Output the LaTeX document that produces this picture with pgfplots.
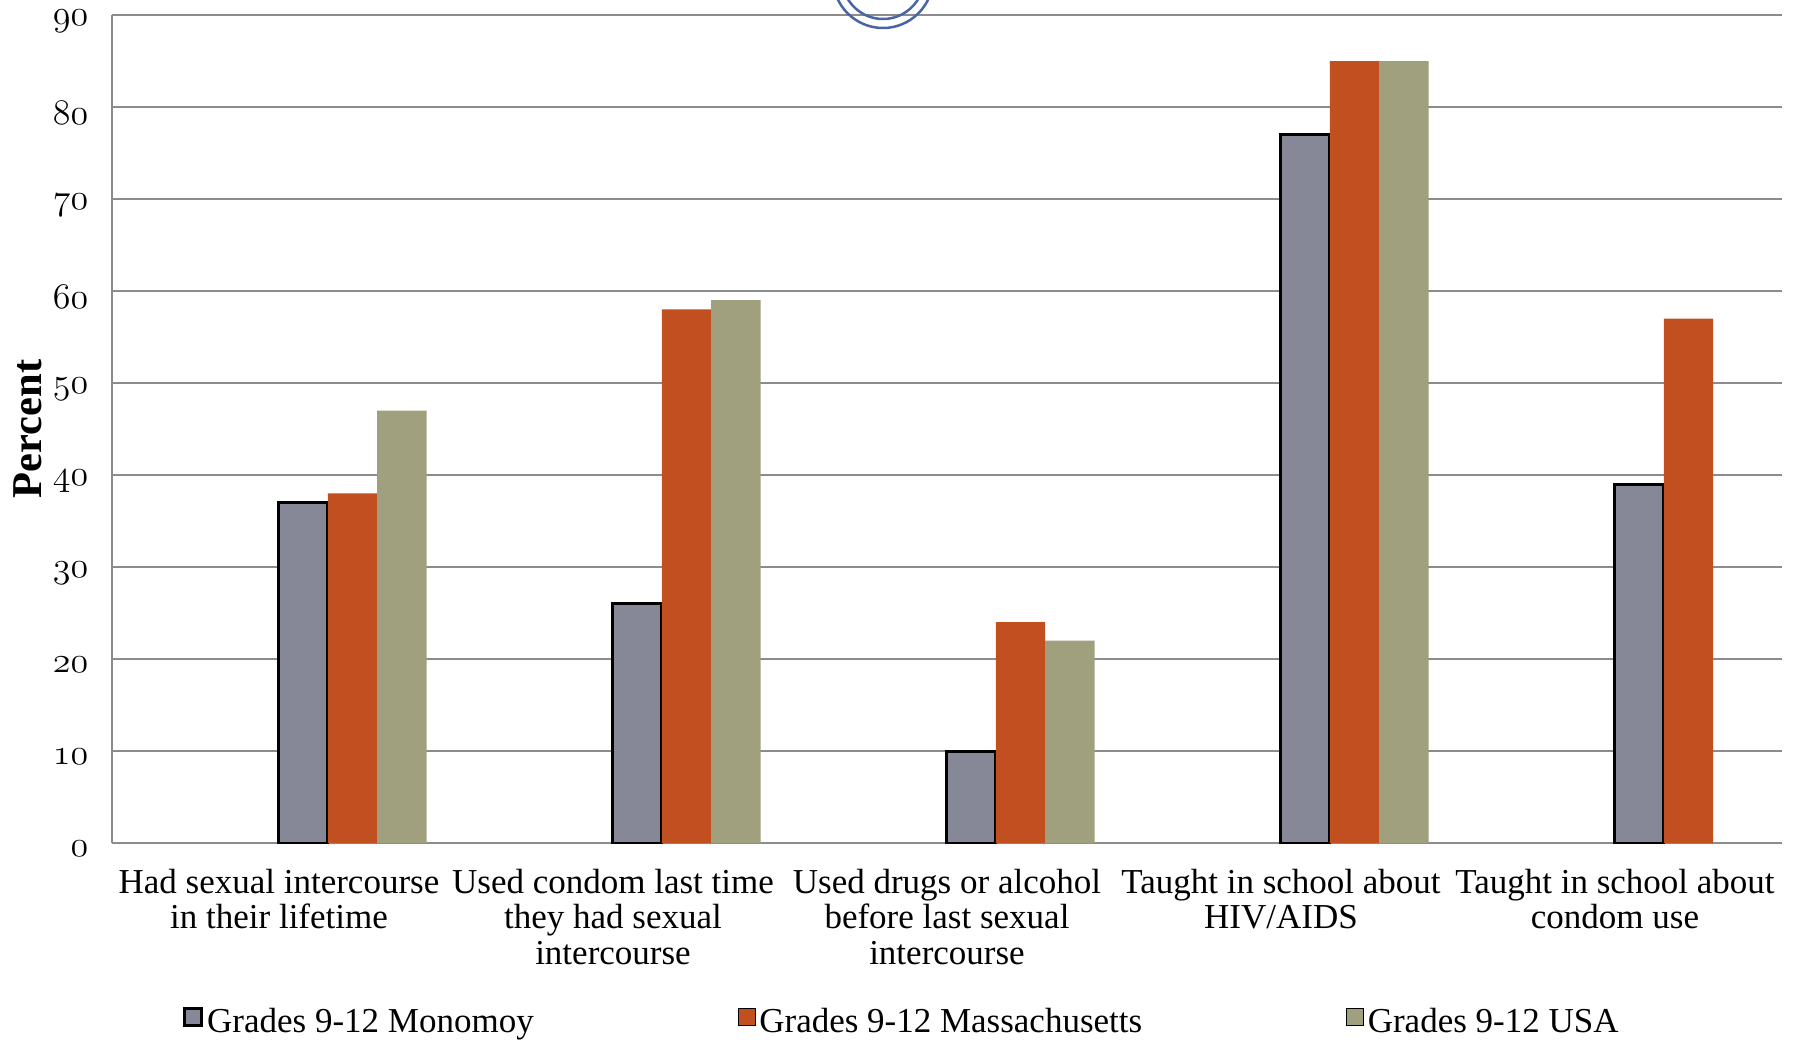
\documentclass[border=0pt]{standalone}
\usepackage{fontspec}
\setmainfont{Liberation Serif}
\usepackage{pgfplots}
\pgfplotsset{compat=1.18}
\definecolor{monomoy}{HTML}{868898}
\definecolor{mass}{HTML}{C24F20}
\definecolor{usa}{HTML}{A09F7E}
\definecolor{gridgray}{HTML}{8C8C8C}
\definecolor{logoblue}{HTML}{4A65A5}
\pgfplotsset{sq/.style={legend image code/.code={\draw[##1] (0pt,-1.4pt) rectangle (6.8pt,5.4pt);}}}
\begin{document}
\begin{tikzpicture}
\begin{axis}[
  at={(0,0)}, anchor=south west,
  scale only axis, width=668pt, height=331.2pt,
  ybar, bar width=0.148,
  xmin=-0.5, xmax=4.5, ymin=0, ymax=90,
  xtick={0,...,4},
  xticklabels={Had sexual intercourse\\in their lifetime,
               Used condom last time\\they had sexual\\intercourse,
               Used drugs or alcohol\\before last sexual\\intercourse,
               Taught in school about\\HIV/AIDS,
               Taught in school about\\condom use},
  xticklabel style={align=center, anchor=north, font=\fontsize{14}{14.2}\selectfont, yshift=-6.8pt},
  ytick={0,10,...,90},
  yticklabel={\pgfmathtruncatemacro\yt{\tick}$\mathnormal{\yt}$},
  yticklabel style={font=\fontsize{13.5}{13.5}\selectfont, xshift=-6pt, yshift=-2.4pt},
  ymajorgrids, major grid style={gridgray, line width=0.6pt},
  axis x line*=bottom, axis y line*=left,
  axis line style={gridgray, line width=0.6pt, -},
  major tick length=0pt,
  ylabel={Percent},
  ylabel style={at={(axis description cs:-0.0503,0.5)}, anchor=center, font=\bfseries\fontsize{17}{17}\selectfont},
  legend columns=3,
  legend style={at={(axis description cs:0.0425,-0.2165)}, anchor=west, draw=none, inner sep=0pt,
    font=\fontsize{14}{14}\selectfont, nodes={inner xsep=1.5pt},
    /tikz/every even column/.append style={column sep=80pt}},
]
\addplot[fill=monomoy, draw=black, line width=1.2pt, bar shift=0.072, sq]
  coordinates {(0,37) (1,26) (2,10) (3,77) (4,39)};
\addplot[fill=mass, draw=none, bar shift=0.220, sq]
  coordinates {(0,38) (1,58) (2,24) (3,85) (4,57)};
\addplot[fill=usa, draw=none, bar shift=0.368, sq]
  coordinates {(0,47) (1,59) (2,22) (3,85)};
\legend{Grades 9-12 Monomoy, Grades 9-12 Massachusetts, Grades 9-12 USA}
\end{axis}
\draw[logoblue, line width=1pt] (308.4pt,346pt) circle (20pt);
\draw[logoblue, line width=1pt] (308.4pt,346pt) circle (16.4pt);
\pgfresetboundingbox
\path (-44.8pt,-78.4pt) rectangle (673.6pt,337.2pt);
\end{tikzpicture}
\end{document}
